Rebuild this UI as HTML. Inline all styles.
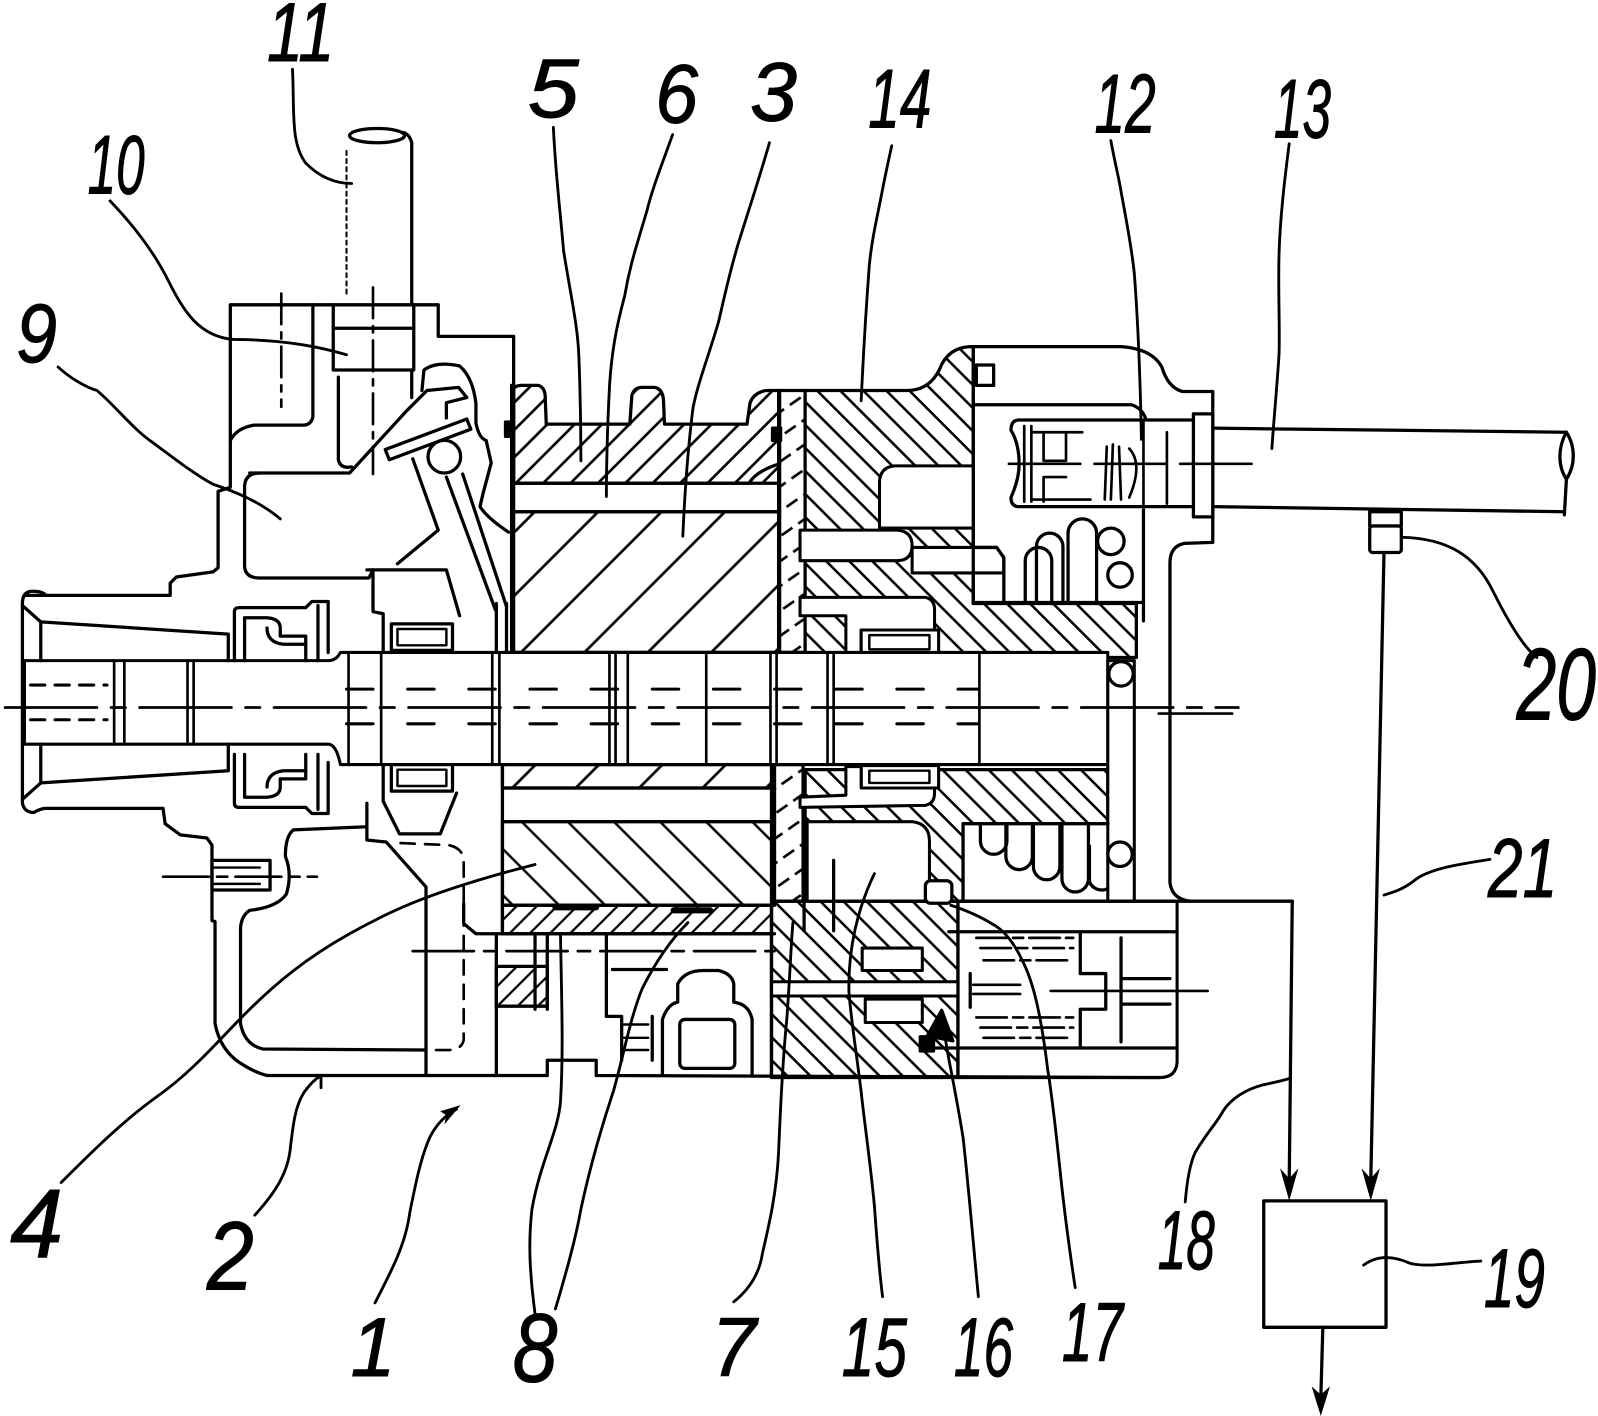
<!DOCTYPE html>
<html><head><meta charset="utf-8">
<style>html,body{margin:0;padding:0;background:#fff;}svg{display:block;}</style></head>
<body>
<svg xmlns="http://www.w3.org/2000/svg" width="1598" height="1416" viewBox="0 0 1568 1389" preserveAspectRatio="none">
<defs>
 <pattern id="p5" width="19" height="19" patternUnits="userSpaceOnUse" patternTransform="rotate(45)"><rect width="19" height="19" fill="#fff"/><line x1="9" y1="0" x2="9" y2="19" stroke="#000" stroke-width="2.6"/></pattern>
 <pattern id="p14" width="16" height="16" patternUnits="userSpaceOnUse" patternTransform="rotate(-45)"><rect width="16" height="16" fill="#fff"/><line x1="8" y1="0" x2="8" y2="16" stroke="#000" stroke-width="2.5"/></pattern>
 <pattern id="p3a" width="44" height="44" patternUnits="userSpaceOnUse" patternTransform="rotate(45)"><rect width="44" height="44" fill="#fff"/><line x1="22" y1="0" x2="22" y2="44" stroke="#000" stroke-width="2.6"/></pattern>
 <pattern id="p3b" width="32" height="32" patternUnits="userSpaceOnUse" patternTransform="rotate(-45)"><rect width="32" height="32" fill="#fff"/><line x1="16" y1="0" x2="16" y2="32" stroke="#000" stroke-width="2.4"/></pattern>
 <pattern id="p7" width="20" height="20" patternUnits="userSpaceOnUse" patternTransform="rotate(55)"><rect width="20" height="20" fill="#fff"/><line x1="10" y1="0" x2="10" y2="13" stroke="#000" stroke-width="2.6"/></pattern>
 <pattern id="p8" width="14" height="14" patternUnits="userSpaceOnUse" patternTransform="rotate(45)"><rect width="14" height="14" fill="#fff"/><line x1="7" y1="0" x2="7" y2="14" stroke="#000" stroke-width="2.2"/></pattern>
</defs>
<rect width="1568" height="1389" fill="#fff"/>

<g stroke="#000" stroke-width="3.2" stroke-linejoin="round" stroke-linecap="round">
 <path d="M504,474 L504,382 Q505,378 512,378 L528,378 Q535,380 535,390 L536,416 L618,416 L620,388 Q622,380 630,380 L642,380 Q650,381 651,392 L652,416 L733,416 L736,395 Q740,385 752,383 L765,383 L765,474 Z" fill="url(#p5)"/>
 <rect x="502" y="502" width="262" height="138" fill="url(#p3a)"/>
 <rect x="765" y="383" width="25" height="257" fill="url(#p7)"/>
 <path d="M790,383 L890,383 Q912,383 922,362 Q930,341 952,340 L955,340 L955,592 L1115,592 L1115,645 L790,645 Z" fill="url(#p14)"/>
 <path d="M790,755 L1087,755 L1087,808 L945,808 L945,884 L790,884 Z" fill="url(#p14)"/>
 <rect x="757" y="884" width="183" height="173" fill="url(#p14)"/>
 <rect x="493" y="750" width="267" height="23" fill="url(#p3a)"/>
 <rect x="493" y="806" width="267" height="82" fill="url(#p3b)"/>
 <path d="M493,888 L757,888 L757,916 L493,916 Z" fill="url(#p8)"/>
 <rect x="760" y="750" width="28" height="134" fill="url(#p7)"/>
 <rect x="487" y="948" width="50" height="39" fill="url(#p8)"/>
</g>

<g fill="#fff" stroke="#000" stroke-width="3" stroke-linejoin="round">
 <path d="M955,457 L878,457 Q864,458 863,472 L863,518 L955,518"/>
 <path d="M895,537 L978,537 L985,547 L985,562 L895,562 Z"/>
 <path d="M785,520 L880,520 Q895,521 895,535 Q895,550 880,550 L785,550 Z"/>
 <path d="M785,586 L908,586 Q917,588 917,598 L917,618 L845,618 L845,641 L830,641 L830,604 L785,604 Z"/>
 <rect x="845" y="618" width="76" height="24"/>
 <rect x="853" y="623" width="59" height="14" stroke-width="2.4"/>
 <rect x="845" y="751" width="76" height="22"/>
 <rect x="853" y="756" width="59" height="12" stroke-width="2.4"/>
 <path d="M785,792 L908,790 Q917,788 917,778 L917,773 L845,773 L845,752 L830,752 L830,780 L785,782 Z"/>
 <path d="M792,806 L895,806 Q912,808 912,825 L912,884 L792,884 Z"/>
 <rect x="945" y="808" width="142" height="76" stroke="none"/>
 <rect x="757" y="963" width="198" height="14"/>
 <rect x="846" y="930" width="59" height="22"/>
 <rect x="849" y="980" width="56" height="23"/>
 <path d="M940,884 L1155,884 L1155,1042 Q1154,1057 1138,1057 L940,1057 Z"/>
 <path d="M24,648 L322,648 Q330,648 334,640 L1087,640 L1087,750 L334,750 Q330,730 322,730 L24,730 Z"/>
 <rect x="1087" y="648" width="26" height="236"/>
</g>

<g fill="none" stroke="#000" stroke-width="3.2" stroke-linejoin="round" stroke-linecap="round">
 <line x1="502" y1="474" x2="735" y2="474"/>
 <path d="M735,474 Q742,462 765,455"/>
 <line x1="502" y1="502" x2="765" y2="502"/>
 <line x1="502" y1="378" x2="502" y2="640"/>
 <line x1="764" y1="383" x2="764" y2="640"/>
 <line x1="493" y1="750" x2="493" y2="916"/>
 <line x1="493" y1="773" x2="760" y2="773"/>
 <line x1="493" y1="806" x2="760" y2="806"/>
 <line x1="493" y1="888" x2="757" y2="888"/>
 <line x1="757" y1="750" x2="757" y2="1057"/>

 <path d="M25,584 L167,584 L167,572 L173,566 L209,561 L214,557 L214,482 L226,478 L226,299 L430,299 L430,330 L504,330 L504,640"/>
 <path d="M307,299 L307,409 Q305,417 298,417 L249,417 Q232,420 226,432"/>
 <path d="M327,299 L327,363 L406,363 L406,299"/>
 <line x1="327" y1="322" x2="406" y2="322"/>
 <path d="M404,140 Q402,132 396,130"/>
 <ellipse cx="370" cy="133" rx="27" ry="7"/>
 <line x1="404" y1="140" x2="404" y2="299"/>
 <line x1="404" y1="363" x2="404" y2="390"/>
 <path d="M332,370 L332,451 Q334,460 345,458"/>
 <path d="M245,464 L343,464 L399,403 L419,383 L450,380 L458,390 L438,395 L438,410"/>
 <path d="M255,464 Q240,464 240,478 L240,556 Q241,567 255,567 L362,567 L366,559 L438,559 L451,604"/>
 <path d="M414,383 L416,363 Q428,354 451,359 Q464,370 467,396 L467,415 Q470,430 477,432 L482,454 L474,484 L471,497 Q478,508 499,522"/>
 <path d="M405,450 L430,520 L390,553"/>
 <path d="M438,468 L486,598 M454,465 L497,595"/>
 <line x1="487" y1="592" x2="487" y2="640"/>
 <line x1="497" y1="592" x2="497" y2="640"/>
 <circle cx="436" cy="448" r="16" fill="#fff"/>
 <path d="M378,441 L458,411 L462,421 L382,451 Z" fill="#fff"/>
 <path d="M360,559 L366,559 L366,600 L376,602 L376,640"/>
 <rect x="384" y="612" width="60" height="26" fill="#fff"/>
 <rect x="390" y="617" width="48" height="16" stroke-width="2.4"/>
 <path d="M22,592 Q22,580 32,580 Q42,580 45,584"/>
 <line x1="22" y1="592" x2="22" y2="788"/>
 <path d="M22,594 L40,610 L40,648 M40,610 L224,622 L224,648"/>
 <path d="M22,784 L40,768 L40,730 M40,768 L224,756 L224,730"/>
 <path d="M230,648 L230,600 Q230,596 235,596 L300,596 L306,590 L322,590 L322,640"/>
 <path d="M240,648 L240,606 L262,606 Q275,607 275,616 L275,624 L300,624 L300,648"/>
 <path d="M262,616 Q262,630 278,632 L300,632"/>
 <line x1="312" y1="594" x2="312" y2="648"/>
 <g transform="matrix(1,0,0,-1,0,1388)">
  <path d="M230,648 L230,600 Q230,596 235,596 L300,596 L306,590 L322,590 L322,640"/>
  <path d="M240,648 L240,606 L262,606 Q275,607 275,616 L275,624 L300,624 L300,648"/>
  <path d="M262,616 Q262,630 278,632 L300,632"/>
  <line x1="312" y1="594" x2="312" y2="648"/>
  <rect x="384" y="612" width="60" height="26" fill="#fff"/>
  <rect x="390" y="617" width="48" height="16" stroke-width="2.4"/>
 </g>
 <path d="M22,788 Q24,797 33,797 Q40,793 45,793 L160,793 L162,808 L177,819 L203,822 L208,829 L208,903 L211,904 L211,1004 Q216,1030 236,1043 Q250,1052 262,1055 L537,1055 L537,1040 L585,1040 L585,1055 L1138,1057"/>
 <path d="M360,811 L288,814 Q280,820 280,840 Q287,857 281,877 Q272,890 245,893 Q237,898 236,910 L236,1004 Q240,1025 258,1029 L418,1030"/>
 <path d="M360,788 L360,824 L379,826 L418,870 L418,1055"/>
 <path d="M376,750 L376,786 L392,818 L432,818 L448,778"/>
 <rect x="208" y="844" width="57" height="29"/>
 <line x1="208" y1="851" x2="255" y2="851" stroke-width="2.4"/>
 <line x1="208" y1="867" x2="255" y2="867" stroke-width="2.4"/>
 <line x1="160" y1="860" x2="311" y2="860" stroke-width="2.6" stroke-dasharray="45 8 10 8"/>
 <path d="M393,827 L440,829 Q455,832 455,845 L455,1020 Q453,1030 440,1030 L420,1030" stroke-dasharray="14 10" stroke-width="2.6"/>
 <line x1="487" y1="916" x2="487" y2="1055"/>
 <path d="M455,886 L455,906 L467,916 L760,916"/>
 <line x1="405" y1="933" x2="760" y2="933" stroke-width="2.6" stroke-dasharray="60 10 12 10"/>
 <line x1="525" y1="916" x2="525" y2="990"/>
 <line x1="537" y1="916" x2="537" y2="990"/>
 <line x1="595" y1="916" x2="595" y2="997"/>
 <line x1="601" y1="951" x2="654" y2="951"/>
 <path d="M595,997 L610,997 L610,1040 M640,997 L640,1040"/>
 <path d="M612,1005 L636,1005 M612,1018 L636,1018 M612,1030 L636,1030" stroke-width="2.4"/>
 <path d="M650,1055 L650,1000 Q655,985 665,983 L665,965 Q672,952 690,952 L705,952 Q718,955 720,965 L720,983 Q735,985 738,1000 L738,1055"/>
 <rect x="667" y="1000" width="54" height="48" rx="5"/>
 <line x1="545" y1="890" x2="585" y2="890" stroke-width="6"/>
 <line x1="661" y1="893" x2="697" y2="893" stroke-width="6"/>

 <path d="M952,340 L1100,340 Q1130,342 1140,360 Q1146,380 1160,384 L1190,384 L1190,532 L1162,533 Q1148,536 1148,552 L1148,866 Q1150,882 1168,884"/>
 <rect x="958" y="358" width="17" height="20"/>
 <line x1="955" y1="340" x2="955" y2="592"/>
 <path d="M955,397 L1110,397 Q1120,400 1124,410"/>
 <line x1="1122" y1="500" x2="1122" y2="609"/>
 <path d="M1000,412 L1175,412 L1175,497 L1000,497 Q992,497 992,488 Q1000,470 1000,455 Q1000,435 992,422 Q992,412 1000,412 Z" fill="#fff"/>
 <line x1="1005" y1="418" x2="1005" y2="492" stroke-width="2.6"/>
 <line x1="1012" y1="418" x2="1012" y2="492" stroke-width="2.6"/>
 <path d="M1024,424 L1024,452 L1046,452 L1046,424 M1024,492 L1024,468 L1046,468 M1012,424 L1062,424 M1012,490 L1070,490" stroke-width="2.6"/>
 <path d="M1086,438 L1084,490 M1092,436 L1090,490 M1098,438 L1100,490 M1108,440 Q1122,455 1108,488" stroke-width="2.6"/>
 <line x1="1145" y1="424" x2="1145" y2="494" stroke-width="2.6"/>
 <line x1="1122" y1="412" x2="1122" y2="497" stroke-width="2.6"/>
 <rect x="1171" y="406" width="19" height="101" fill="#fff"/>
 <line x1="990" y1="455" x2="1228" y2="455" stroke-width="2.6" stroke-dasharray="70 14"/>
 <path d="M1190,420 L1537,424 M1190,497 L1535,502"/>
 <path d="M1537,424 C1528,440 1529,458 1537,470 C1546,456 1546,438 1537,424 M1537,470 L1535,505"/>
 <rect x="1344" y="502" width="31" height="14" fill="#fff"/>
 <rect x="1344" y="516" width="31" height="26" rx="3" fill="#fff"/>
 <line x1="1358" y1="542" x2="1345" y2="1160"/>
 <path d="M955,537 L978,537 L985,547 L985,591"/>
 <path d="M1006,591 L1006,550 A13,13 0 0 1 1032,550 L1032,591"/>
 <path d="M1017,591 L1017,536 A13,13 0 0 1 1043,536 L1043,591"/>
 <path d="M1048,591 L1048,523 A14,14 0 0 1 1076,523 L1076,591"/>
 <circle cx="1090" cy="531" r="13" fill="#fff"/>
 <circle cx="1099" cy="564" r="12" fill="#fff"/>
 <line x1="955" y1="591" x2="1122" y2="591"/>
 <circle cx="1100" cy="661" r="12"/>
 <circle cx="1099" cy="838" r="12"/>
 <path d="M945,808 L945,884"/>
 <path d="M962,808 L962,825 A13,13 0 0 0 988,825 L988,808"/>
 <path d="M987,808 L987,840 A13,13 0 0 0 1013,840 L1013,808"/>
 <path d="M1014,808 L1014,850 A13,13 0 0 0 1040,850 L1040,808"/>
 <path d="M1042,808 L1042,862 A13,13 0 0 0 1068,862 L1068,808"/>
 <path d="M1069,830 L1069,865 A13,13 0 0 0 1086,872"/>
 <line x1="945" y1="808" x2="1087" y2="808"/>
 <line x1="1137" y1="700" x2="1209" y2="700" stroke-width="2.6"/>

 <line x1="821" y1="884" x2="1268" y2="884"/>
 <line x1="940" y1="884" x2="940" y2="1057"/>
 <line x1="931" y1="914" x2="1155" y2="914"/>
 <line x1="903" y1="1028" x2="1155" y2="1028"/>
 <path d="M958,920 L1053,920 M962,930 L1053,930 M965,942 L1050,942" stroke-width="2.6" stroke-dasharray="30 6 10 6"/>
 <path d="M958,998 L1053,998 M962,1008 L1053,1008 M965,1018 L1050,1018" stroke-width="2.6" stroke-dasharray="30 6 10 6"/>
 <path d="M1060,914 L1060,955 L1085,955 L1085,990 L1060,990 L1060,1028"/>
 <path d="M1100,920 L1100,1022 M1100,960 L1148,960 M1100,985 L1148,985"/>
 <line x1="955" y1="966" x2="1001" y2="966" stroke-width="2.6"/>
 <line x1="955" y1="975" x2="1001" y2="975" stroke-width="2.6"/>
 <line x1="952" y1="955" x2="952" y2="988"/>
 <line x1="1031" y1="972" x2="1185" y2="972" stroke-width="2.6"/>
 <rect x="908" y="864" width="26" height="22" rx="5" fill="#fff"/>
 <polygon points="910,1016 924,991 935,1021" fill="#000"/>
 <rect x="903" y="1017" width="13" height="14" fill="#000"/>
 <path d="M789,844 L789,913 M818,844 L818,913"/>

 <g stroke-width="2.6">
  <line x1="112" y1="650" x2="112" y2="728"/>
  <line x1="122" y1="650" x2="122" y2="728"/>
  <line x1="184" y1="650" x2="184" y2="728"/>
  <line x1="190" y1="650" x2="190" y2="728"/>
  <line x1="342" y1="642" x2="342" y2="748"/>
  <line x1="374" y1="642" x2="374" y2="748"/>
  <line x1="483" y1="642" x2="483" y2="748"/>
  <line x1="490" y1="642" x2="490" y2="748"/>
  <line x1="598" y1="642" x2="598" y2="748"/>
  <line x1="604" y1="642" x2="604" y2="748"/>
  <line x1="616" y1="642" x2="616" y2="748"/>
  <line x1="693" y1="642" x2="693" y2="748"/>
  <line x1="756" y1="642" x2="756" y2="748"/>
  <line x1="762" y1="642" x2="762" y2="748"/>
  <line x1="812" y1="642" x2="812" y2="748"/>
  <line x1="818" y1="642" x2="818" y2="748"/>
  <line x1="961" y1="642" x2="961" y2="748"/>
 </g>
 <path d="M340,676 L960,676 M340,710 L960,710" stroke-width="3" stroke-dasharray="26 34"/>
 <path d="M30,672 L105,672 M30,706 L105,706" stroke-width="3" stroke-dasharray="14 10"/>
 <line x1="5" y1="694" x2="1215" y2="694" stroke-width="2.8" stroke-dasharray="90 14 14 14"/>

 <line x1="276" y1="288" x2="276" y2="399" stroke-width="2.6" stroke-dasharray="30 8 6 8"/>
 <line x1="366" y1="282" x2="366" y2="465" stroke-width="2.6" stroke-dasharray="30 8 6 8"/>
 <line x1="340" y1="148" x2="340" y2="290" stroke-width="2" stroke-dasharray="4 4"/>
 <rect x="496" y="414" width="6" height="14" fill="#000"/>
 <rect x="758" y="420" width="8" height="12" fill="#000"/>

 <rect x="1240" y="1178" width="120" height="124"/>
 <line x1="1268" y1="884" x2="1265" y2="1160"/>
 <line x1="1298" y1="1302" x2="1296" y2="1372"/>
</g>
<g fill="#000" stroke="none">
 <polygon points="1256,1146 1265,1178 1274,1146 1265,1156"/>
 <polygon points="1336,1146 1345,1178 1354,1146 1345,1156"/>
 <polygon points="1287,1360 1296,1389 1305,1360 1296,1368"/>
 <polygon points="452,1084 432,1090 438,1094 436,1103"/>
</g>

<g fill="none" stroke="#000" stroke-width="2.8" stroke-linecap="round">
 <path d="M287,68 C289,110 285,140 300,160 C315,175 330,180 345,180"/>
 <path d="M108,197 C130,220 150,245 165,275 C180,305 195,330 229,333 C260,333 300,336 340,348"/>
 <path d="M57,360 C70,372 85,380 95,383 C110,395 130,420 147,432 C165,445 190,465 209,475 C230,482 255,492 275,509"/>
 <path d="M543,125 C545,170 550,210 553,246 C560,290 567,320 568,350 C570,400 570,430 570,452"/>
 <path d="M660,132 C650,160 640,185 635,206 C625,240 618,260 613,290 C605,320 600,345 598,380 C596,420 595,455 595,487"/>
 <path d="M755,140 C745,175 735,205 725,237 C715,270 710,295 705,316 C695,350 685,375 680,400 C675,440 672,480 670,526"/>
 <path d="M875,143 C870,165 866,185 863,201 C858,225 855,240 853,260 C850,300 847,350 845,393"/>
 <path d="M1090,138 C1094,160 1098,175 1100,188 C1105,215 1110,240 1113,268 C1117,320 1119,380 1120,431"/>
 <path d="M1265,141 C1260,180 1256,215 1255,250 C1254,290 1256,320 1255,348 C1253,380 1250,410 1248,440"/>
 <path d="M1375,527 C1420,528 1448,545 1465,580 C1480,610 1495,635 1508,645"/>
 <path d="M1462,843 C1430,848 1405,852 1390,862 C1378,872 1368,875 1358,878"/>
 <path d="M60,1160 C90,1130 120,1100 155,1075 C190,1050 215,1020 240,995 C270,965 300,940 343,916 C380,895 420,875 525,848"/>
 <path d="M250,1192 C270,1170 283,1150 285,1125 C288,1100 290,1085 298,1072 C305,1062 310,1058 315,1055"/>
 <line x1="315" y1="1055" x2="315" y2="1067"/>
 <path d="M368,1278 C385,1245 398,1220 402,1190 C408,1160 413,1135 422,1115 C430,1100 438,1094 448,1088"/>
 <path d="M525,1289 C520,1250 518,1220 522,1186 C530,1140 548,1110 550,1080 C553,1030 551,980 550,918"/>
 <path d="M545,1284 C555,1250 565,1215 570,1186 C580,1140 592,1100 602,1070 C612,1035 618,1000 630,970 C645,940 660,920 675,905"/>
 <path d="M720,1277 C735,1265 745,1250 748,1230 C755,1200 762,1170 764,1130 C766,1080 768,1040 772,1000 C775,960 776,930 778,905"/>
 <path d="M866,1272 C862,1240 860,1210 858,1183 C854,1140 848,1100 845,1071 C840,1030 835,1000 833,973 C832,930 842,890 858,857"/>
 <path d="M960,1272 C955,1220 950,1160 945,1116 C940,1085 935,1060 933,1049 C930,1035 928,1020 925,1005"/>
 <path d="M1055,1263 C1050,1230 1046,1200 1043,1174 C1038,1130 1034,1085 1028,1049 C1022,1000 1015,965 1003,942 C995,925 985,912 973,906 C960,898 945,892 933,888"/>
 <path d="M1163,1179 C1165,1155 1168,1140 1173,1130 C1185,1110 1195,1100 1200,1090 C1210,1075 1225,1068 1240,1064 C1250,1062 1258,1060 1265,1058"/>
 <path d="M1338,1241 C1350,1232 1365,1231 1383,1239 C1400,1244 1430,1238 1453,1237"/>
</g>

<g font-family="'Liberation Sans', sans-serif" font-style="italic" font-size="82" fill="#000" stroke="#000" stroke-width="1">
 <text x="262" y="60" textLength="66" lengthAdjust="spacingAndGlyphs">11</text>
 <text x="86" y="190" textLength="56" lengthAdjust="spacingAndGlyphs">10</text>
 <text x="16" y="355" textLength="40" lengthAdjust="spacingAndGlyphs">9</text>
 <text x="518" y="115" textLength="50" lengthAdjust="spacingAndGlyphs">5</text>
 <text x="643" y="120" textLength="42" lengthAdjust="spacingAndGlyphs">6</text>
 <text x="736" y="118" textLength="46" lengthAdjust="spacingAndGlyphs">3</text>
 <text x="852" y="125" textLength="62" lengthAdjust="spacingAndGlyphs">14</text>
 <text x="1074" y="130" textLength="60" lengthAdjust="spacingAndGlyphs">12</text>
 <text x="1250" y="135" textLength="56" lengthAdjust="spacingAndGlyphs">13</text>
 <text x="1488" y="706" font-size="100" textLength="78" lengthAdjust="spacingAndGlyphs">20</text>
 <text x="1460" y="880" textLength="68" lengthAdjust="spacingAndGlyphs">21</text>
 <text x="10" y="1233" font-size="96" textLength="52" lengthAdjust="spacingAndGlyphs">4</text>
 <text x="203" y="1265" font-size="96" textLength="46" lengthAdjust="spacingAndGlyphs">2</text>
 <text x="344" y="1350" textLength="44" lengthAdjust="spacingAndGlyphs">1</text>
 <text x="503" y="1355" font-size="96" textLength="44" lengthAdjust="spacingAndGlyphs">8</text>
 <text x="698" y="1350" textLength="44" lengthAdjust="spacingAndGlyphs">7</text>
 <text x="826" y="1350" textLength="64" lengthAdjust="spacingAndGlyphs">15</text>
 <text x="936" y="1350" textLength="58" lengthAdjust="spacingAndGlyphs">16</text>
 <text x="1042" y="1335" textLength="60" lengthAdjust="spacingAndGlyphs">17</text>
 <text x="1136" y="1245" textLength="56" lengthAdjust="spacingAndGlyphs">18</text>
 <text x="1456" y="1282" textLength="60" lengthAdjust="spacingAndGlyphs">19</text>
</g>
</svg>
</body></html>
